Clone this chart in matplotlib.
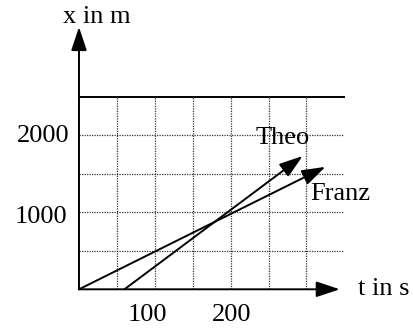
import matplotlib.pyplot as plt

# values (t in s, x in m)
franz_t = [0, 325]
franz_x = [0, 1590]
theo_t = [60, 295]
theo_x = [0, 1730]

grid_t = [50, 100, 150, 200, 250, 300]
grid_x = [500, 1000, 1500, 2000]
top_x = 2500

t_labels = ["100", "200"]
t_label_pos = [90, 202]
x_labels = ["1000", "2000"]
x_label_pos = [940, 1987]

plt.rcParams["font.family"] = ["Liberation Serif", "DejaVu Serif"]
FS = 19

fig = plt.figure(figsize=(4.13, 3.29), dpi=100)
ax = fig.add_axes([0, 0, 1, 1])
ax.set_xlim(-104.2, 440.6)
ax.set_ylim(-515.6, 3757)
ax.axis("off")

# dotted grid
for t in grid_t:
    ax.plot([t, t], [0, top_x], color="black", linestyle=(0, (1, 1)), linewidth=0.9, alpha=0.8)
for x in grid_x:
    ax.plot([0, 348], [x, x], color="black", linestyle=(0, (1, 1)), linewidth=0.9, alpha=0.8)

# solid top line
ax.plot([0, 350], [top_x, top_x], color="black", linewidth=1.4)

# axes with arrow heads
arrow = dict(arrowstyle="-|>,head_length=0.9,head_width=0.3", color="black",
             linewidth=1.4, shrinkA=0, shrinkB=0, mutation_scale=16)
ax.annotate("", xy=(344, 0), xytext=(0, 0), arrowprops=arrow)
ax.annotate("", xy=(0, 3406), xytext=(0, 0), arrowprops=arrow)

# the two movements
ax.annotate("", xy=(franz_t[1], franz_x[1]), xytext=(franz_t[0], franz_x[0]), arrowprops=arrow)
ax.annotate("", xy=(theo_t[1], theo_x[1]), xytext=(theo_t[0], theo_x[0]), arrowprops=arrow)

# labels
for lab, pos in zip(t_labels, t_label_pos):
    ax.text(pos, -334, lab, fontsize=FS, ha="center", va="center")
ax.text(-12, x_label_pos[1], x_labels[1], fontsize=FS, ha="right", va="center")
ax.text(-16, x_label_pos[0], x_labels[0], fontsize=FS, ha="right", va="center")

ax.text(-21, 3536, "x in m", fontsize=FS, ha="left", va="center")
ax.text(368, 0, "t in s", fontsize=FS, ha="left", va="center")
ax.text(269, 1965, "Theo", fontsize=FS, ha="center", va="center")
ax.text(305, 1238, "Franz", fontsize=FS, ha="left", va="center")

fig.savefig("out.png", dpi=100)
